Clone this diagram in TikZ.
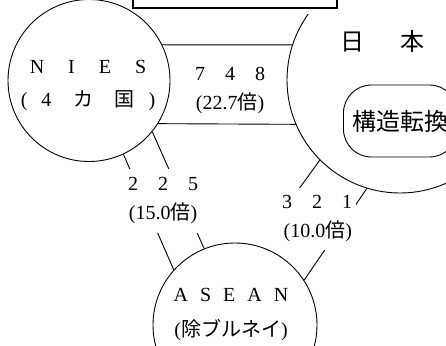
\documentclass[tikz,border=0pt]{standalone}
\usepackage{fontspec}
\setmainfont{Liberation Serif}
\newfontfamily\jp{Noto Sans CJK JP}
\usetikzlibrary{positioning, backgrounds}
\tikzstyle{country} = [circle, 
			draw, 
			line width=0.9pt, 
			inner sep=0pt]
\tikzstyle{band} = [line width=0.9pt]
\tikzstyle{countryname} = [align=center, 
			font=\fontsize{20}{24}\selectfont]
\tikzstyle{volume} = [align=center, 
			fill=white, 
			inner sep=0pt, 
			font=\fontsize{20}{24}\selectfont]
\newcommand{\numgap}{\hspace{1em}}

\begin{document}
\begin{tikzpicture}[x=1pt, y=-1pt]
	\useasboundingbox (0,0) rectangle (446,345);
	\clip (0,0) rectangle (446,345);
	\node [rectangle, draw, line width=1.4pt, minimum width=204pt, minimum height=60pt] (frame) at (235,-22) {};
	% the three regions
	\node [country, minimum size=162pt] (nies) at (89,80.5) {};
	\node [country, minimum size=164pt] (asean) at (235,325) {};
	\begin{scope}
		\clip (0,15) rectangle (446,345);
		\node [country, minimum size=226pt] (japan) at (400,80) {};
	\end{scope}
	\node [countryname] (niestext) at (88,86) {N\hspace{1.2em}I\hspace{1.2em}E\hspace{1.2em}S\\[9pt](\hspace{.7em}4\hspace{1.1em}{\jp カ}\hspace{1.05em}{\jp 国}\hspace{.7em})};
	\node [countryname] (aseantext) at (231,315) {A\hspace{.6em}S\hspace{.6em}E\hspace{.6em}A\hspace{.6em}N\\[11pt]({\jp 除ブルネイ})};
	\node [font=\jp\fontsize{24}{28}\selectfont] (jpname) at (382,41) {日\hspace{1.5em}本};
	\node [rectangle, draw, rounded corners=28pt, line width=0.9pt, minimum height=72pt, inner xsep=9pt, anchor=west, font=\jp\fontsize{24}{28}\selectfont] (reform) at (343,121) {構造転換};
	% trade flows
	\begin{pgfonlayer}{background}
		\draw [band] (nies.26) -- (japan.162);
		\draw [band] (nies.-32.5) -- (japan.-157);
		\draw [band] (nies.-65) -- (asean.138);
		\draw [band] (nies.-39) -- (asean.112);
		\draw [band] (japan.-135) -- (asean.74);
		\draw [band] (japan.-107) -- (asean.33);
		\node [volume] (v748) at (230,90) {7\numgap4\numgap8\\[5pt](22.7{\jp 倍})};
		\node [volume, minimum width=82pt, minimum height=64pt] (v225) at (163,201) {2\numgap2\numgap5\\[5pt](15.0{\jp 倍})};
		\node [volume, text width=94pt, align=right, inner xsep=4pt, minimum height=62pt] (v321) at (305,219) {3\numgap2\numgap1\\[5pt](10.0{\jp 倍})};
	\end{pgfonlayer}
\end{tikzpicture}
\end{document}
